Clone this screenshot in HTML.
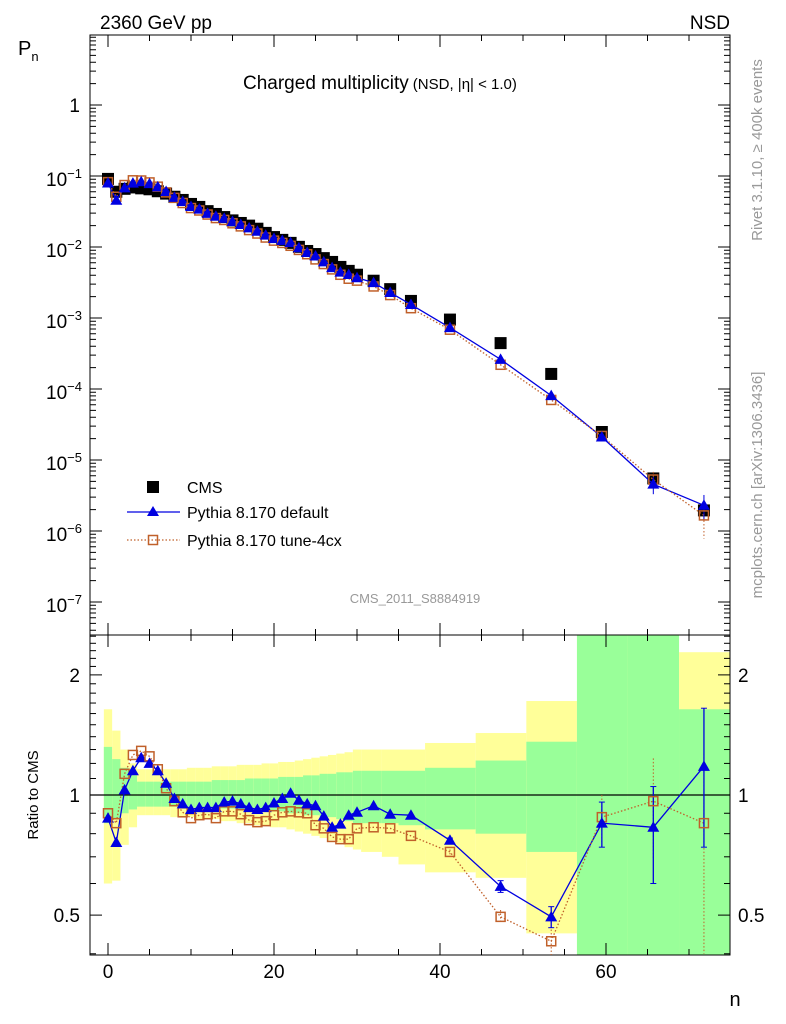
<!DOCTYPE html>
<html><head><meta charset="utf-8"><style>
body{margin:0;background:#fff;}
svg{display:block;font-family:"Liberation Sans",sans-serif;}
</style></head><body>
<svg id="chart" width="786" height="1024" viewBox="0 0 786 1024" xmlns="http://www.w3.org/2000/svg">
<g id="ratioBands"></g>
<g id="grid"></g>
<g id="series"></g>
<text x="100" y="29" font-size="19">2360 GeV pp</text>
<text x="730" y="29" font-size="19" text-anchor="end">NSD</text>
<text x="243" y="89" font-size="19">Charged multiplicity<tspan font-size="15" dx="4">(NSD, |η| &lt; 1.0)</tspan></text>
<text x="18" y="55" font-size="20">P<tspan font-size="13" dy="6">n</tspan></text>
<text transform="translate(38,795) rotate(-90)" font-size="15" text-anchor="middle">Ratio to CMS</text>
<text x="735" y="1006" font-size="20" text-anchor="middle">n</text>
<text x="415" y="603" font-size="13" fill="#999" text-anchor="middle">CMS_2011_S8884919</text>
<text transform="translate(762,150) rotate(-90)" font-size="15" fill="#999" text-anchor="middle">Rivet 3.1.10, ≥ 400k events</text>
<text transform="translate(762,485) rotate(-90)" font-size="15" fill="#999" text-anchor="middle">mcplots.cern.ch [arXiv:1306.3436]</text>
<g>
<rect x="147" y="481" width="12" height="12" fill="#000"/>
<text x="187" y="493" font-size="16">CMS</text>
<line x1="127" y1="512" x2="180" y2="512" stroke="#0000e0" stroke-width="1.3"/>
<polygon points="153,506 159,516 147,516" fill="#0000e0"/>
<text x="187" y="518" font-size="16">Pythia 8.170 default</text>
<line x1="127" y1="540" x2="180" y2="540" stroke="#c0602a" stroke-width="1.3" stroke-dasharray="1.5,2"/>
<rect x="148.5" y="535.5" width="9" height="9" fill="none" stroke="#c0602a" stroke-width="1.5"/>
<text x="187" y="546" font-size="16">Pythia 8.170 tune-4cx</text>
</g>
</svg>
<script>
const nVals=[0,1,2,3,4,5,6,7,8,9,10,11,12,13,14,15,16,17,18,19,20,21,22,23,24,25,26,27,28,29,30,32,34,36.5,41.2,47.3,53.4,59.5,65.7,71.8];
const binEdges=[-0.5,0.5,1.5,2.5,3.5,4.5,5.5,6.5,7.5,8.5,9.5,10.5,11.5,12.5,13.5,14.5,15.5,16.5,17.5,18.5,19.5,20.5,21.5,22.5,23.5,24.5,25.5,26.5,27.5,28.5,29.5,30.5,33,35,38.2,44.3,50.4,56.5,62.6,68.8,74.9];
const cmsVals=[0.091,0.060,0.066,0.069,0.067,0.065,0.061,0.0565,0.051,0.046,0.0404,0.0367,0.032,0.0292,0.0264,0.0237,0.0218,0.0200,0.0181,0.0158,0.0138,0.0126,0.01143,0.01005,0.00879,0.00796,0.00697,0.00616,0.00524,0.00461,0.00407,0.00335,0.00255,0.00174,0.00095,0.000443,0.000163,2.48e-5,5.5e-6,1.95e-6];
const defRatio=[0.875,0.76,1.03,1.15,1.24,1.2,1.15,1.07,0.98,0.95,0.92,0.93,0.93,0.93,0.96,0.965,0.95,0.93,0.92,0.93,0.955,0.98,1.01,0.97,0.95,0.94,0.885,0.83,0.845,0.89,0.905,0.94,0.895,0.89,0.77,0.59,0.495,0.85,0.83,1.18];
const tuneRatio=[0.90,0.85,1.13,1.26,1.29,1.25,1.16,1.04,0.965,0.905,0.875,0.89,0.895,0.875,0.91,0.91,0.895,0.865,0.855,0.86,0.89,0.905,0.91,0.905,0.90,0.84,0.825,0.785,0.775,0.775,0.825,0.83,0.825,0.79,0.72,0.495,0.43,0.88,0.965,0.85];
const defErrLo=[0,0,0,0,0,0,0,0,0,0,0,0,0,0,0,0,0,0,0,0,0,0,0,0,0,0,0,0,0,0,0,0,0,0,0.01,0.02,0.03,0.11,0.23,0.44];
const defErrHi=[0,0,0,0,0,0,0,0,0,0,0,0,0,0,0,0,0,0,0,0,0,0,0,0,0,0,0,0,0,0,0,0,0,0,0.01,0.02,0.03,0.11,0.22,0.47];
const tuneErrLo=[0,0,0,0,0,0,0,0,0,0,0,0,0,0,0,0,0,0,0,0,0,0,0,0,0,0,0,0,0,0,0,0,0,0,0.01,0.02,0.06,0.12,0.27,0.45];
const tuneErrHi=[0,0,0,0,0,0,0,0,0,0,0,0,0,0,0,0,0,0,0,0,0,0,0,0,0,0,0,0,0,0,0,0,0,0,0.01,0.02,0.03,0.12,0.27,0.42];
const yUp=[1.64,1.45,1.30,1.20,1.16,1.16,1.16,1.16,1.16,1.16,1.17,1.17,1.17,1.18,1.18,1.18,1.19,1.19,1.19,1.20,1.20,1.21,1.21,1.22,1.23,1.24,1.25,1.26,1.27,1.28,1.30,1.30,1.30,1.30,1.35,1.43,1.72,3,3,2.28];
const gUp=[1.32,1.23,1.17,1.12,1.08,1.08,1.08,1.08,1.08,1.08,1.08,1.08,1.08,1.09,1.09,1.09,1.09,1.10,1.10,1.10,1.10,1.11,1.11,1.11,1.12,1.12,1.13,1.13,1.14,1.14,1.15,1.15,1.15,1.15,1.17,1.22,1.36,3,3,1.64];
const gDn=[0.85,0.87,0.90,0.92,0.935,0.935,0.935,0.935,0.935,0.93,0.93,0.93,0.93,0.93,0.925,0.925,0.92,0.92,0.92,0.91,0.91,0.91,0.90,0.90,0.89,0.89,0.88,0.88,0.87,0.86,0.85,0.85,0.85,0.84,0.82,0.80,0.72,0.3,0.3,0.3];
const yDn=[0.60,0.61,0.75,0.83,0.89,0.89,0.89,0.89,0.88,0.88,0.88,0.87,0.87,0.87,0.86,0.86,0.85,0.85,0.84,0.84,0.83,0.83,0.82,0.81,0.80,0.79,0.78,0.77,0.76,0.74,0.73,0.72,0.70,0.67,0.64,0.62,0.45,0.3,0.3,0.3];
const xTicks=[0,20,40,60];
const mainDecades=[0,-1,-2,-3,-4,-5,-6,-7];
const ratioTicks=[0.5,1,2];

const NS='http://www.w3.org/2000/svg';
const L=90,R=730,T=35,MB=635,B=955;
const xs=n=>108+(n)*8.3;
const ym=v=>105-Math.log10(v)*71;
const yr=v=>Math.max(MB,Math.min(B,795-Math.log10(v)*399));
function mk(tag,attrs,parent){const e=document.createElementNS(NS,tag);for(const k in attrs)e.setAttribute(k,attrs[k]);parent.appendChild(e);return e;}
const bandsG=document.getElementById('ratioBands'),axG=document.getElementById('grid'),sG=document.getElementById('series');

for(let i=0;i<nVals.length;i++){
  const x0=Math.max(L,xs(binEdges[i])),x1=Math.min(R,xs(binEdges[i+1]));
  const a=mk('rect',{x:x0,y:yr(yUp[i]),width:x1-x0,height:yr(yDn[i])-yr(yUp[i]),fill:'#ffff99'},bandsG);
  
  
  const g=mk('rect',{x:x0,y:yr(gUp[i]),width:x1-x0,height:yr(gDn[i])-yr(gUp[i]),fill:'#99ff99'},bandsG);
  
  
}
mk('rect',{x:L,y:T,width:R-L,height:MB-T,fill:'none',stroke:'#000','stroke-width':1},axG);
mk('rect',{x:L,y:MB,width:R-L,height:B-MB,fill:'none',stroke:'#000','stroke-width':1},axG);
const one=mk('line',{x1:L,x2:R,y1:795,y2:795,stroke:'#000','stroke-width':1.2},axG);


for(let n=0;n<=74;n+=5){const maj=n%20===0;const len=maj?12:6;const x=xs(n);
 [[T,1],[MB,-1],[MB,1],[B,-1]].forEach(([y,d])=>mk('line',{x1:x,x2:x,y1:y,y2:y+d*len,stroke:'#000'},axG));}
xTicks.forEach(n=>{const t=mk('text',{x:xs(n),y:978,'font-size':19,'text-anchor':'middle'},axG);t.textContent=n;
 
 });
for(let d=1;d>=-8;d--){for(let m=1;m<10;m++){const v=m*Math.pow(10,d);const y=ym(v);if(y<T||y>MB)continue;const len=m===1?12:6;
 mk('line',{x1:L,x2:L+len,y1:y,y2:y,stroke:'#000'},axG);mk('line',{x1:R,x2:R-len,y1:y,y2:y,stroke:'#000'},axG);}}
mainDecades.forEach(d=>{const t=mk('text',{x:d===0?80:82,y:ym(Math.pow(10,d))+10,'font-size':19,'text-anchor':'end'},axG);
 
 
 if(d===0){t.textContent='1';t.setAttribute('y',ym(1)+7);}else{t.textContent='10';const s=mk('tspan',{'font-size':13,dy:-8},t);s.textContent=String(d).replace('-','−');}});
for(let v=0.4;v<=2.55;v+=0.1){const y=yr(v);if(y<=MB||y>=B)continue;const maj=[0.5,1,2].some(r=>Math.abs(r-v)<1e-6);const len=maj?12:6;
 mk('line',{x1:L,x2:L+len,y1:y,y2:y,stroke:'#000'},axG);mk('line',{x1:R,x2:R-len,y1:y,y2:y,stroke:'#000'},axG);}
ratioTicks.forEach(v=>{[[80,'end'],[738,'start']].forEach(([x,a])=>{const t=mk('text',{x:x,y:yr(v)+7,'font-size':19,'text-anchor':a},axG);t.textContent=v;
 
 });});

function tri(x,y,par,name){const p=mk('polygon',{points:`${x},${y-6} ${x+6},${y+4.5} ${x-6},${y+4.5}`,fill:'#0000e0'},par);}
function osq(x,y,par,name){const r=mk('rect',{x:x-4.5,y:y-4.5,width:9,height:9,fill:'none',stroke:'#c0602a','stroke-width':1.5},par);}

const defMain=cmsVals.map((c,i)=>c*defRatio[i]),tuneMain=cmsVals.map((c,i)=>c*tuneRatio[i]);
cmsVals.forEach((v,i)=>{const r=mk('rect',{x:xs(nVals[i])-6,y:ym(v)-6,width:12,height:12,fill:'#000'},sG);
 
 });
const dl=mk('polyline',{points:nVals.map((n,i)=>xs(n)+','+ym(defMain[i])).join(' '),fill:'none',stroke:'#0000e0','stroke-width':1.3},sG);


const tl=mk('polyline',{points:nVals.map((n,i)=>xs(n)+','+ym(tuneMain[i])).join(' '),fill:'none',stroke:'#c0602a','stroke-width':1.3,'stroke-dasharray':'1.5,2'},sG);


nVals.forEach((n,i)=>{const x=xs(n);
 if(tuneErrHi[i]>0.05){mk('line',{x1:x,x2:x,y1:ym(cmsVals[i]*(tuneRatio[i]+tuneErrHi[i])),y2:ym(cmsVals[i]*Math.max(0.05,tuneRatio[i]-tuneErrLo[i])),stroke:'#c0602a','stroke-dasharray':'1.5,2'},sG);}
 if(defErrHi[i]>0.05){mk('line',{x1:x,x2:x,y1:ym(cmsVals[i]*(defRatio[i]+defErrHi[i])),y2:ym(cmsVals[i]*(defRatio[i]-defErrLo[i])),stroke:'#0000e0'},sG);}
 osq(x,ym(tuneMain[i]),sG,'tune-point');tri(x,ym(defMain[i]),sG,'default-point');});

const rdl=mk('polyline',{points:nVals.map((n,i)=>xs(n)+','+yr(defRatio[i])).join(' '),fill:'none',stroke:'#0000e0','stroke-width':1.3},sG);


const rtl=mk('polyline',{points:nVals.map((n,i)=>xs(n)+','+yr(tuneRatio[i])).join(' '),fill:'none',stroke:'#c0602a','stroke-width':1.3,'stroke-dasharray':'1.5,2'},sG);


nVals.forEach((n,i)=>{const x=xs(n);
 if(tuneErrHi[i]>0){mk('line',{x1:x,x2:x,y1:yr(tuneRatio[i]+tuneErrHi[i]),y2:yr(tuneRatio[i]-tuneErrLo[i]),stroke:'#c0602a','stroke-dasharray':'1.5,2'},sG);}
 if(defErrHi[i]>0){const y1=yr(defRatio[i]+defErrHi[i]),y2=yr(defRatio[i]-defErrLo[i]);
  mk('line',{x1:x,x2:x,y1:y1,y2:y2,stroke:'#0000e0','stroke-width':1.3},sG);
  mk('line',{x1:x-3,x2:x+3,y1:y1,y2:y1,stroke:'#0000e0'},sG);mk('line',{x1:x-3,x2:x+3,y1:y2,y2:y2,stroke:'#0000e0'},sG);}
 osq(x,yr(tuneRatio[i]),sG,'tune-ratio-point');tri(x,yr(defRatio[i]),sG,'default-ratio-point');});
</script>
</body></html>
